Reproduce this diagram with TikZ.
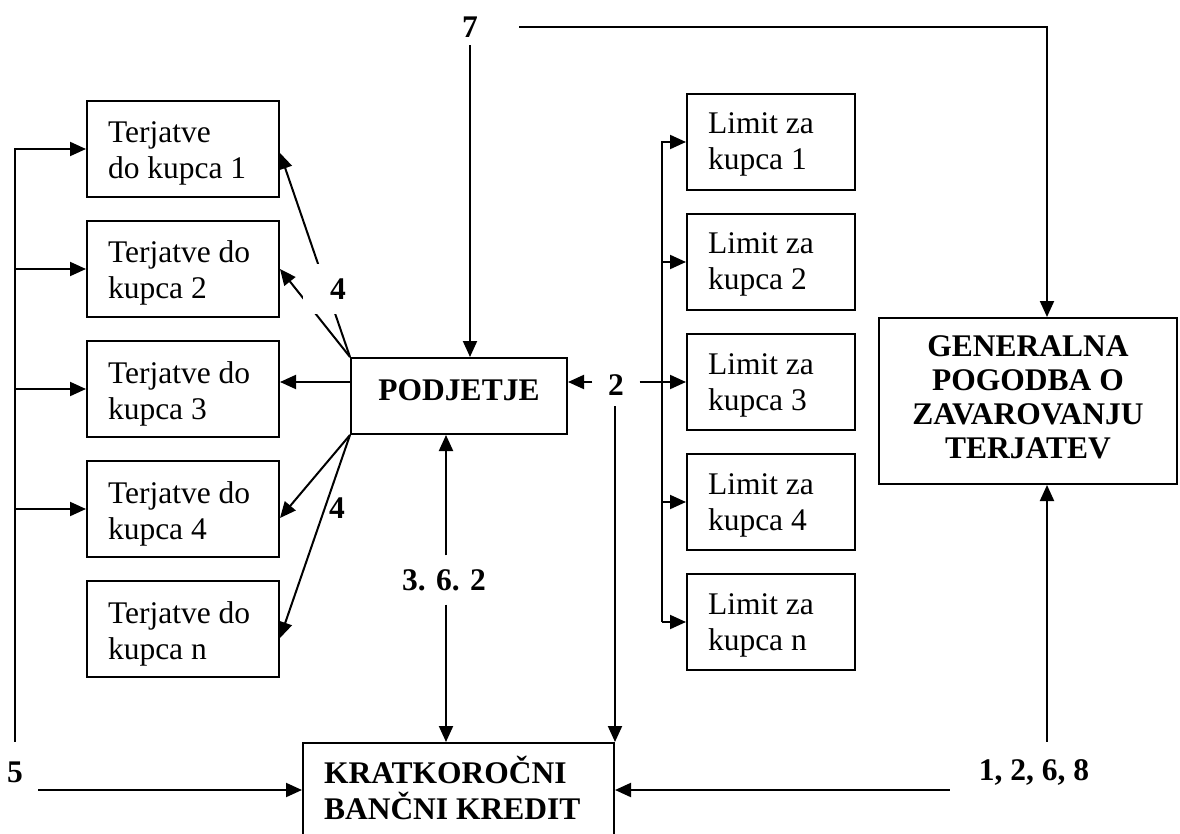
\documentclass[tikz,border=0pt]{standalone}
\usepackage{fontspec}
\setmainfont{Liberation Serif}
\usetikzlibrary{arrows.meta,calc}
\newcommand\lbox[4]{\parbox[c][#2][t]{#1}{\raggedright\leftskip=21pt\relax\rule{0pt}{#3}#4}}
\newcommand\cbox[4]{\parbox[c][#2][t]{#1}{\centering\rule{0pt}{#3}#4}}
\begin{document}
\begin{tikzpicture}[x=1pt,y=-1pt, font=\fontsize{31.5}{36}\selectfont,
 bx/.style={draw, line width=2pt, inner sep=0pt, anchor=north west},
 lbl/.style={font=\fontsize{31.5}{36}\selectfont\bfseries, inner sep=0pt},
 ln/.style={line width=2pt},
 arr/.style={ln, -{Triangle[length=16pt,width=14pt]}}]
\useasboundingbox (0,0) rectangle (1180,834);
\clip (0,0) rectangle (1180,834);
% left boxes
\node[bx] (t1) at (86,100) {\lbox{192pt}{96pt}{42pt}{Terjatve\\do kupca 1}};
\node[bx] (t2) at (86,220) {\lbox{192pt}{96pt}{42pt}{Terjatve do\\kupca 2}};
\node[bx] (t3) at (86,340) {\lbox{192pt}{96pt}{42pt}{Terjatve do\\kupca 3}};
\node[bx] (t4) at (86,460) {\lbox{192pt}{96pt}{42pt}{Terjatve do\\kupca 4}};
\node[bx] (tn) at (86,580) {\lbox{192pt}{96pt}{42pt}{Terjatve do\\kupca n}};
% limit boxes
\node[bx] (lim1) at (686,93) {\lbox{168pt}{96pt}{40pt}{Limit za\\kupca 1}};
\node[bx] (lim2) at (686,213) {\lbox{168pt}{96pt}{40pt}{Limit za\\kupca 2}};
\node[bx] (lim3) at (686,333) {\lbox{168pt}{96pt}{40pt}{Limit za\\kupca 3}};
\node[bx] (lim4) at (686,453) {\lbox{168pt}{96pt}{40pt}{Limit za\\kupca 4}};
\node[bx] (limn) at (686,573) {\lbox{168pt}{96pt}{40pt}{Limit za\\kupca n}};
% main boxes
\node[bx] (pod) at (350,357) {\cbox{216pt}{76pt}{42pt}{\bfseries PODJETJE}};
\node[bx] (gen) at (878,317) {\fontsize{31.5}{34}\selectfont\cbox{298pt}{166pt}{38pt}{\bfseries GENERALNA\\POGODBA O\\ZAVAROVANJU\\TERJATEV}};
\node[bx] (kr) at (302,742) {\lbox{311pt}{94pt}{40pt}{\bfseries KRATKOROČNI\\BANČNI KREDIT}};
% labels
\node[lbl, minimum width=98pt, minimum height=36pt] (l7) at (470,27) {7};
\node[lbl, minimum width=47pt, minimum height=42pt] (l2) at (616,385) {2};
\node[lbl, minimum height=49pt] (l362) at (444,580) {3. 6. 2};
\node[lbl, minimum width=46pt, minimum height=60pt] (l5) at (15,772) {5};
\node[lbl, minimum width=168pt, minimum height=60pt] (l1268) at (1034,772) {1, 2, 6, 8};
\coordinate (xg) at (1047,0);
\coordinate (xa) at (446,0);
\coordinate (xbr) at (662,0);
% connectors
\draw[arr] (l7.east) -| (xg |- gen.north);
\draw[arr] (l7.south) -- (l7.south |- pod.north);
\draw[arr] (xg |- l1268.north) -- (xg |- gen.south);
\draw[arr] (l1268.west |- kr.east) -- (kr.east);
\draw[arr] (l5.east |- kr.west) -- (kr.west);
\draw[arr] (l5.north) |- (t1.west);
\foreach \b in {t2,t3,t4} \draw[arr] (l5.north |- \b.west) -- (\b.west);
\draw[arr] (xa |- l362.north) -- (xa |- pod.south);
\draw[arr] (xa |- l362.south) -- (xa |- kr.north);
\draw[arr] (l2.west |- lim3.west) -- (pod.east |- lim3.west);
\draw[arr] (l2.east |- lim3.west) -- (lim3.west);
\draw[arr] (l2.south -| kr.north east) -- (kr.north east);
\draw[arr] (pod.west |- lim3.west) -- (t3.east |- lim3.west);
\draw[arr] (xbr |- limn.west) |- (lim1.west);
\foreach \b in {lim2,lim4,limn} \draw[arr] (xbr |- \b.west) -- (\b.west);
\draw[arr] (pod.north west) -- ($(t1.east)+(0,4)$);
\draw[arr] (pod.north west) -- (t2.east);
\draw[arr] (pod.south west) -- ($(t4.east)+(0,9)$);
\draw[arr] (pod.south west) -- ($(tn.east)+(0,9)$);
\node[lbl, fill=white, minimum width=70pt, minimum height=50pt] (l4a) at (338,289) {4};
\node[lbl] (l4b) at (337,508) {4};
\end{tikzpicture}
\end{document}
